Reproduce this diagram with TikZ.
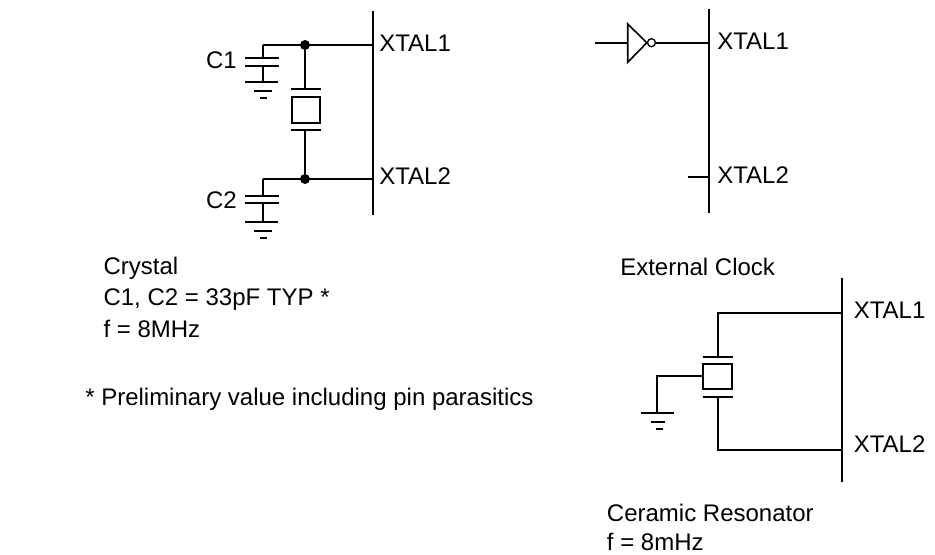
\documentclass[tikz,border=0pt]{standalone}
\usepackage{fontspec}
\setmainfont{Liberation Sans}
\begin{document}
\begin{tikzpicture}[x=0.75pt,y=-0.75pt,
  wire/.style={line width=1.5pt},
  bus/.style={line width=1.5pt},
  lbl/.style={inner sep=0pt,anchor=base west,font=\fontsize{18pt}{21pt}\selectfont},
  lblr/.style={inner sep=0pt,anchor=base east,font=\fontsize{18pt}{21pt}\selectfont},
  junction/.style={circle,fill=black,inner sep=0pt,minimum size=7.5pt}]
\useasboundingbox (0,0) rectangle (935,554);
% ---------------- Crystal ----------------
\coordinate (cbT) at (372.7,11);
\coordinate (cbB) at (372.7,215);
\coordinate (cX1) at (372.7,45);
\coordinate (cX2) at (372.7,179);
\coordinate (cC1t) at (262.7,45);
\coordinate (cC2t) at (262.7,179);
\node[junction] (J1) at (305,45) {};
\node[junction] (J2) at (305,179) {};
\draw[bus] (cbT) -- (cbB);
\draw[wire] (cC1t) -- (J1.center) -- (cX1);
\draw[wire] (cC2t) -- (J2.center) -- (cX2);
% C1
\draw[wire] (cC1t) -- (262.7,58.3);
\draw[wire] (245,58.3) -- (279.3,58.3);
\draw[wire] (245,65.7) -- (279.3,65.7);
\draw[wire] (262.7,65.7) -- (262.7,81.7);
\draw[wire] (245,81.7) -- (278,81.7);
\draw[wire] (253.5,90.5) -- (271.7,90.5);
\draw[wire] (260,98.3) -- (267,98.3);
% C2
\draw[wire] (cC2t) -- (262.7,196);
\draw[wire] (245,196) -- (279.3,196);
\draw[wire] (245,202.7) -- (279.3,202.7);
\draw[wire] (262.7,202.7) -- (262.7,221.7);
\draw[wire] (245,221.7) -- (278,221.7);
\draw[wire] (253.5,230.5) -- (271.7,230.5);
\draw[wire] (260,238.3) -- (267,238.3);
% crystal
\draw[wire] (J1.center) -- (305,89);
\draw[wire] (291,89) -- (320.7,89);
\draw[wire] (291.7,96.7) rectangle (320,122.7);
\draw[wire] (291,130) -- (320.7,130);
\draw[wire] (305,130) -- (J2.center);
\node[lblr] (tC1) at (237,68.3) {C1};
\node[lblr] (tC2) at (237,208.3) {C2};
\node[lbl] (tcX1) at (379,51.7) {XTAL1};
\node[lbl] (tcX2) at (379,184.3) {XTAL2};
\node[lbl] (tCry) at (103.3,274) {Crystal};
\node[lbl] (tCval) at (103.3,305) {C1, C2 = 33pF TYP *};
\node[lbl] (tCf) at (103.3,337) {f = 8MHz};
\node[lbl] (tPre) at (85,405) {* Preliminary value including pin parasitics};
% ---------------- External clock ----------------
\coordinate (ebT) at (709.3,9.3);
\coordinate (ebB) at (709.3,213.3);
\coordinate (eX1) at (709.3,42.7);
\coordinate (eX2) at (709.3,176.7);
\coordinate (eIn) at (595,42.7);
\coordinate (eTri) at (627.7,42.7);
\coordinate (eStub) at (688.3,176.7);
\node[circle,draw,line width=1pt,minimum size=6pt,inner sep=0pt] (bub) at (651.5,42.7) {};
\draw[bus] (ebT) -- (ebB);
\draw[wire] (eIn) -- (eTri);
\draw[line width=1.2pt,line join=miter] (627.7,24) -- (627.7,62.3) -- (bub.west) -- cycle;
\draw[wire] (bub.east) -- (eX1);
\draw[wire] (eStub) -- (eX2);
\node[lbl] (teX1) at (717,49.3) {XTAL1};
\node[lbl] (teX2) at (717,183.3) {XTAL2};
\node[lbl] (tExt) at (620,275) {External Clock};
% ---------------- Ceramic resonator ----------------
\coordinate (rbT) at (841.7,278.3);
\coordinate (rbB) at (841.7,481.5);
\coordinate (rX1) at (841.7,313.3);
\coordinate (rX2) at (841.7,449.5);
\coordinate (rC1) at (717.5,313.3);
\coordinate (rC2) at (717.5,449.5);
\coordinate (rG) at (656.7,376);
\draw[bus] (rbT) -- (rbB);
\draw[wire] (rX1) -- (rC1) -- (717.5,357.3);
\draw[wire] (702.7,357.3) -- (733.3,357.3);
\draw[wire] (703.3,364) rectangle (732.3,389.3);
\draw[wire] (702.7,397.3) -- (733.3,397.3);
\draw[wire] (717.5,397.3) -- (rC2) -- (rX2);
\draw[wire] (703.3,376) -- (rG) -- (656.7,412.7);
\draw[wire] (640.7,412.7) -- (674,412.7);
\draw[wire] (650.7,421.7) -- (665,421.7);
\draw[wire] (656,429.3) -- (662.7,429.3);
\node[lbl] (trX1) at (853.5,318.3) {XTAL1};
\node[lbl] (trX2) at (853.5,452.7) {XTAL2};
\node[lbl] (tCer) at (606.7,521.7) {Ceramic Resonator};
\node[lbl] (tCerf) at (606.7,550) {f = 8mHz};
\end{tikzpicture}
\end{document}
